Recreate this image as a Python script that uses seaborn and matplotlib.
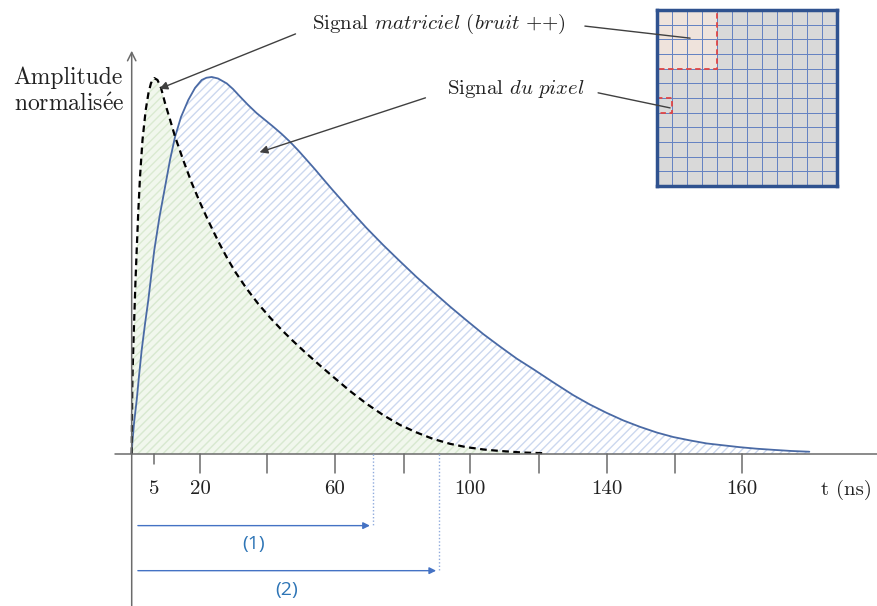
import numpy as np
import matplotlib
matplotlib.use('Agg')
import matplotlib.pyplot as plt
import matplotlib.patches as patches
from matplotlib.colors import ListedColormap
import seaborn as sns

t_pixel = [0, 0.15, 0.58, 1.25, 1.83, 2.5, 3.33, 4.15, 4.9, 5.65, 6.95, 8.33, 9.58, 10.83,
           12.33, 14.15, 15.83, 17.5, 18.7, 20, 21.58, 23.75, 25.33, 27.08, 29.08, 31.25,
           33.33, 35.4, 37.48, 39.58, 41.65, 43.75, 45.83, 47.9, 50, 52.08, 55.4, 58.75,
           62.9, 67.08, 71.25, 75.4, 79.58, 83.75, 87.9, 92.08, 96.25, 100.4, 105.4, 110.4,
           114.58, 118.75, 122.9, 127.08, 131.25, 135.4, 139.58, 143.75, 147.9, 152.08,
           156.25, 160.4, 164.9, 169.4]
a_pixel = [0, 0.029, 0.082, 0.143, 0.207, 0.276, 0.345, 0.408, 0.475, 0.541, 0.629, 0.708,
           0.780, 0.841, 0.894, 0.939, 0.971, 0.992, 0.998, 1.0, 0.996, 0.983, 0.968, 0.948,
           0.926, 0.904, 0.886, 0.868, 0.849, 0.828, 0.805, 0.780, 0.755, 0.729, 0.703,
           0.678, 0.638, 0.599, 0.554, 0.511, 0.469, 0.430, 0.391, 0.354, 0.318, 0.285,
           0.253, 0.225, 0.190, 0.156, 0.131, 0.109, 0.089, 0.072, 0.057, 0.045, 0.036,
           0.028, 0.023, 0.018, 0.014, 0.011, 0.008, 0.006]

t_matrice = [0, 0.15, 0.38, 0.65, 0.93, 1.25, 1.63, 2.08, 2.7, 3.5, 4.2, 4.83, 5.65, 6.45,
             7.33, 8.33, 9.58, 10.83, 12.83, 15, 17.08, 19.08, 20.58, 22.08, 23.95, 25.83,
             28.7, 31.65, 34.58, 37.5, 40.4, 43.33, 46.83, 50.33, 54.58, 58.75, 62.9, 67.08,
             71.25, 75.33, 79.58, 83.75, 87.9, 92.08, 97.58, 103.3]
a_matrice = [0, 0.188, 0.276, 0.364, 0.454, 0.541, 0.639, 0.736, 0.833, 0.912, 0.958, 0.984,
             0.997, 0.992, 0.971, 0.931, 0.887, 0.842, 0.781, 0.719, 0.667, 0.620, 0.587,
             0.555, 0.518, 0.484, 0.439, 0.398, 0.362, 0.329, 0.299, 0.270, 0.237, 0.205,
             0.167, 0.133, 0.103, 0.077, 0.057, 0.040, 0.027, 0.018, 0.012, 0.008, 0.004,
             0.002]

tick_pos = [5.5, 17.1, 33.8, 50.8, 68.1, 84.6, 101.8, 118.8, 135.8, 152.6]
tick_lab = ['5', '20', '', '60', '', '100', '', '140', '', '160']

t_fin = [60.25, 76.8]          # fin des flèches (1) et (2)
fleche_lab = ['(1)', '(2)']

grid_n = 12
zone_rows = [0, 1, 2, 3]
zone_cols = [0, 1, 2, 3]

sns.set_theme(style='white')
plt.rcParams['font.family'] = ['cmr10', 'DejaVu Serif']
plt.rcParams['mathtext.fontset'] = 'cm'
plt.rcParams['hatch.linewidth'] = 1.0

fig = plt.figure(figsize=(8.78, 6.06), dpi=100)
ax = fig.add_axes([0, 0, 1, 1])
ax.set_xlim(-32.925, 186.575)
ax.set_ylim(-0.4032, 1.2042)
ax.axis('off')
ax.set_zorder(2)
ax.patch.set_visible(False)

# surfaces
ax.fill_between(t_pixel, a_pixel, 0, facecolor='none', edgecolor='#ccd8ef', hatch='////', lw=0)
ax.fill_between(t_matrice, a_matrice, 0, facecolor='#eff6ea', edgecolor='#d6e8cc',
                hatch='////', lw=0, alpha=0.85)

# courbes
sns.lineplot(x=t_pixel, y=a_pixel, ax=ax, sort=False, estimator=None, color='#4a6aa5', lw=1.3)
sns.lineplot(x=t_matrice, y=a_matrice, ax=ax, sort=False, estimator=None, color='black',
             lw=1.6, linestyle=(0, (3, 2)))

# axes dessinés à la main
axc = '#6b6b6b'
ax.plot([-4.2, 186.6], [0, 0], color=axc, lw=1.1)
ax.annotate('', xy=(0, 1.077), xytext=(0, -0.41),
            arrowprops=dict(arrowstyle='->', color=axc, lw=1.1, mutation_scale=15))
for p, lab in zip(tick_pos, tick_lab):
    ln = 0.027 if lab == '5' else 0.05
    ax.plot([p, p], [0, -ln], color=axc, lw=1.1)
    if lab:
        ax.text(p, -0.092, lab, ha='center', va='center', fontsize=15, color='#222222')
ax.text(178.8, -0.095, 't (ns)', ha='center', va='center', fontsize=15, color='#222222')
ax.text(-29.5, 0.963, 'Amplitude\nnormalis$\\acute{\\mathrm{e}}$e', ha='left', va='center',
        fontsize=17, color='#222222', linespacing=1.25)

# flèches de temps (1) et (2)
ys = [-0.19, -0.3095]
for tf, yy, lab in zip(t_fin, ys, fleche_lab):
    ax.plot([tf, tf], [0, yy], color='#8faadc', lw=1, linestyle=(0, (1, 1.5)))
    ax.annotate('', xy=(tf, yy), xytext=(0.85, yy),
                arrowprops=dict(arrowstyle='-|>', color='#4472c4', lw=1, mutation_scale=10))
    ax.text((tf + 0.85) / 2, yy - 0.05, lab, ha='center', va='center', fontsize=14,
            color='#2e75b6', family='Open Sans')

# annotations
lc = '#404040'
ax.text(45.1, 1.141, r'Signal $\mathit{matriciel\ (bruit\ {+}{+})}$', ha='left', va='center',
        fontsize=15, color='#222222')
ax.annotate('', xy=(6.3, 0.966), xytext=(41.6, 1.117),
            arrowprops=dict(arrowstyle='-|>', color=lc, lw=1, mutation_scale=12))
ax.plot([113.3, 139.6], [1.135, 1.103], color=lc, lw=1)

ax.text(78.8, 0.968, r'Signal $\mathit{du\ pixel}$', ha='left', va='center',
        fontsize=15, color='#222222')
ax.annotate('', xy=(31.3, 0.798), xytext=(74.1, 0.947),
            arrowprops=dict(arrowstyle='-|>', color=lc, lw=1, mutation_scale=12))
ax.plot([116.6, 134.6], [0.958, 0.918], color=lc, lw=1)

# matrice de pixels (encart)
mat = np.zeros((grid_n, grid_n))
for r in zone_rows:
    for c in zone_cols:
        mat[r, c] = 1
ax_in = fig.add_axes([657 / 878, 1 - 186 / 606, 180 / 878, 176 / 606])
ax_in.set_zorder(1)
sns.heatmap(mat, ax=ax_in, cmap=ListedColormap(['#d9d9d9', '#efe3dc']), cbar=False,
            linewidths=0.5, linecolor='#6683c2', xticklabels=False, yticklabels=False)
for s in ax_in.spines.values():
    s.set_visible(True)
    s.set_linewidth(2.5)
    s.set_color('#2f528f')
ax_in.add_patch(patches.Rectangle((min(zone_cols), min(zone_rows)), len(zone_cols), len(zone_rows),
                                  fill=False, ec='#e04545', ls=(0, (3, 2)), lw=1.3))
ax_in.add_patch(patches.Rectangle((0, 6), 1, 1, fill=False, ec='#e04545', ls=(0, (3, 2)), lw=1.3))

fig.savefig('out.png', dpi=100)
